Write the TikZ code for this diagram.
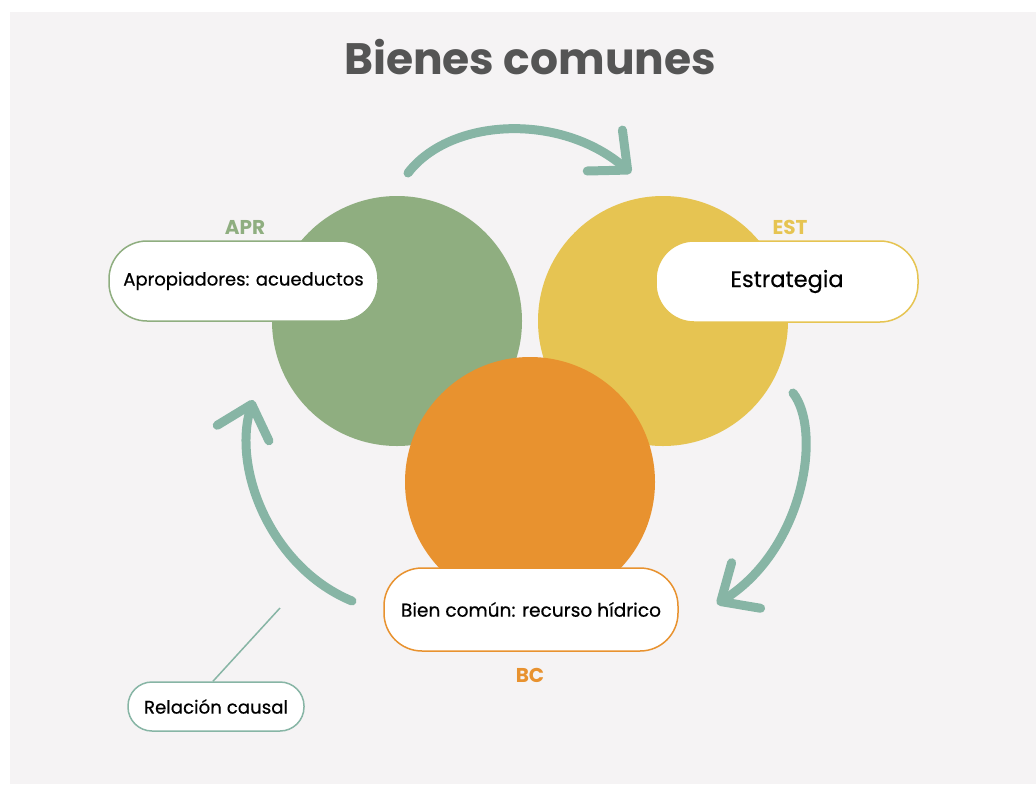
\documentclass[tikz,border=0pt]{standalone}
\usepackage{fontspec}
\setmainfont{Poppins}
\newfontfamily\medfont{Poppins}[FakeBold=0.5]
\usetikzlibrary{arrows.meta}
\definecolor{panel}{HTML}{F5F3F4}
\definecolor{cgreen}{HTML}{8FAE80}
\definecolor{cyellow}{HTML}{E6C452}
\definecolor{corange}{HTML}{E8922F}
\definecolor{cteal}{HTML}{87B5A5}
\definecolor{ctitle}{HTML}{555555}
\tikzset{
  disc/.style={circle, minimum size=250pt, inner sep=0pt},
  pill/.style={rounded corners=38pt, fill=white, line width=1.5pt, align=center, inner sep=0pt, text=black},
  tag/.style={font=\fontsize{20}{22}\selectfont\bfseries},
  flow/.style={line width=9pt, cteal, line cap=round, -{Straight Barb[length=30pt, width=54pt, line cap=round, line join=round]}},
}
\begin{document}
\begin{tikzpicture}[x=1pt, y=-1pt]
\useasboundingbox (0,0) rectangle (1036,785);
\fill[white] (0,0) rectangle (1036,785);
\fill[panel] (10,12) rectangle (1036,784);
\node[text=ctitle, font=\fontsize{44}{48}\selectfont\bfseries] (title) at (530,57) {Bienes comunes};
% circles
\node[disc, fill=cgreen] (cAPR) at (397,321) {};
\node[disc, fill=cyellow] (cEST) at (663,321) {};
\node[disc, fill=corange] (cBC) at (530,482) {};
% boxes
\node[pill, draw=cgreen, minimum width=269pt, minimum height=80pt, font=\medfont\fontsize{18}{20}\selectfont] (apr) at (243.5,281) {Apropiadores: acueductos};
\node[pill, draw=cyellow, minimum width=262pt, minimum height=81pt, font=\medfont\fontsize{22.5}{24}\selectfont] (est) at (787,281.5) {Estrategia};
\node[pill, draw=corange, minimum width=294pt, minimum height=83pt, font=\medfont\fontsize{18.6}{20}\selectfont] (bc) at (531,609.5) {Bien común: recurso hídrico};
\node[pill, draw=cteal, rounded corners=24pt, minimum width=176pt, minimum height=49pt, font=\medfont\fontsize{18.2}{20}\selectfont] (rc) at (216,706.5) {Relación causal};
% tags
\node[tag, text=cgreen] (tAPR) at (245,227) {APR};
\node[tag, text=cyellow] (tEST) at (790,227) {EST};
\node[tag, text=corange] (tBC) at (530,675) {BC};
% arrows
\coordinate (a1s) at (408,173);
\coordinate (a1e) at (631,173);
\coordinate (a2s) at (793,393);
\coordinate (a2e) at (717,604);
\coordinate (a3s) at (352,601);
\coordinate (a3e) at (253,400);
\draw[flow] (a1s) .. controls (450,118) and (560,112) .. (a1e);
\draw[flow] (a2s) .. controls (822,430) and (805,548) .. (a2e);
\draw[flow] (a3s) .. controls (272,568) and (232,470) .. (a3e);
% causal pointer
\coordinate (rcend) at (280,608);
\draw[cteal, line width=1.5pt] (rc.north) ++(-3,0) coordinate (rctop) -- (rcend);
\end{tikzpicture}
\end{document}
